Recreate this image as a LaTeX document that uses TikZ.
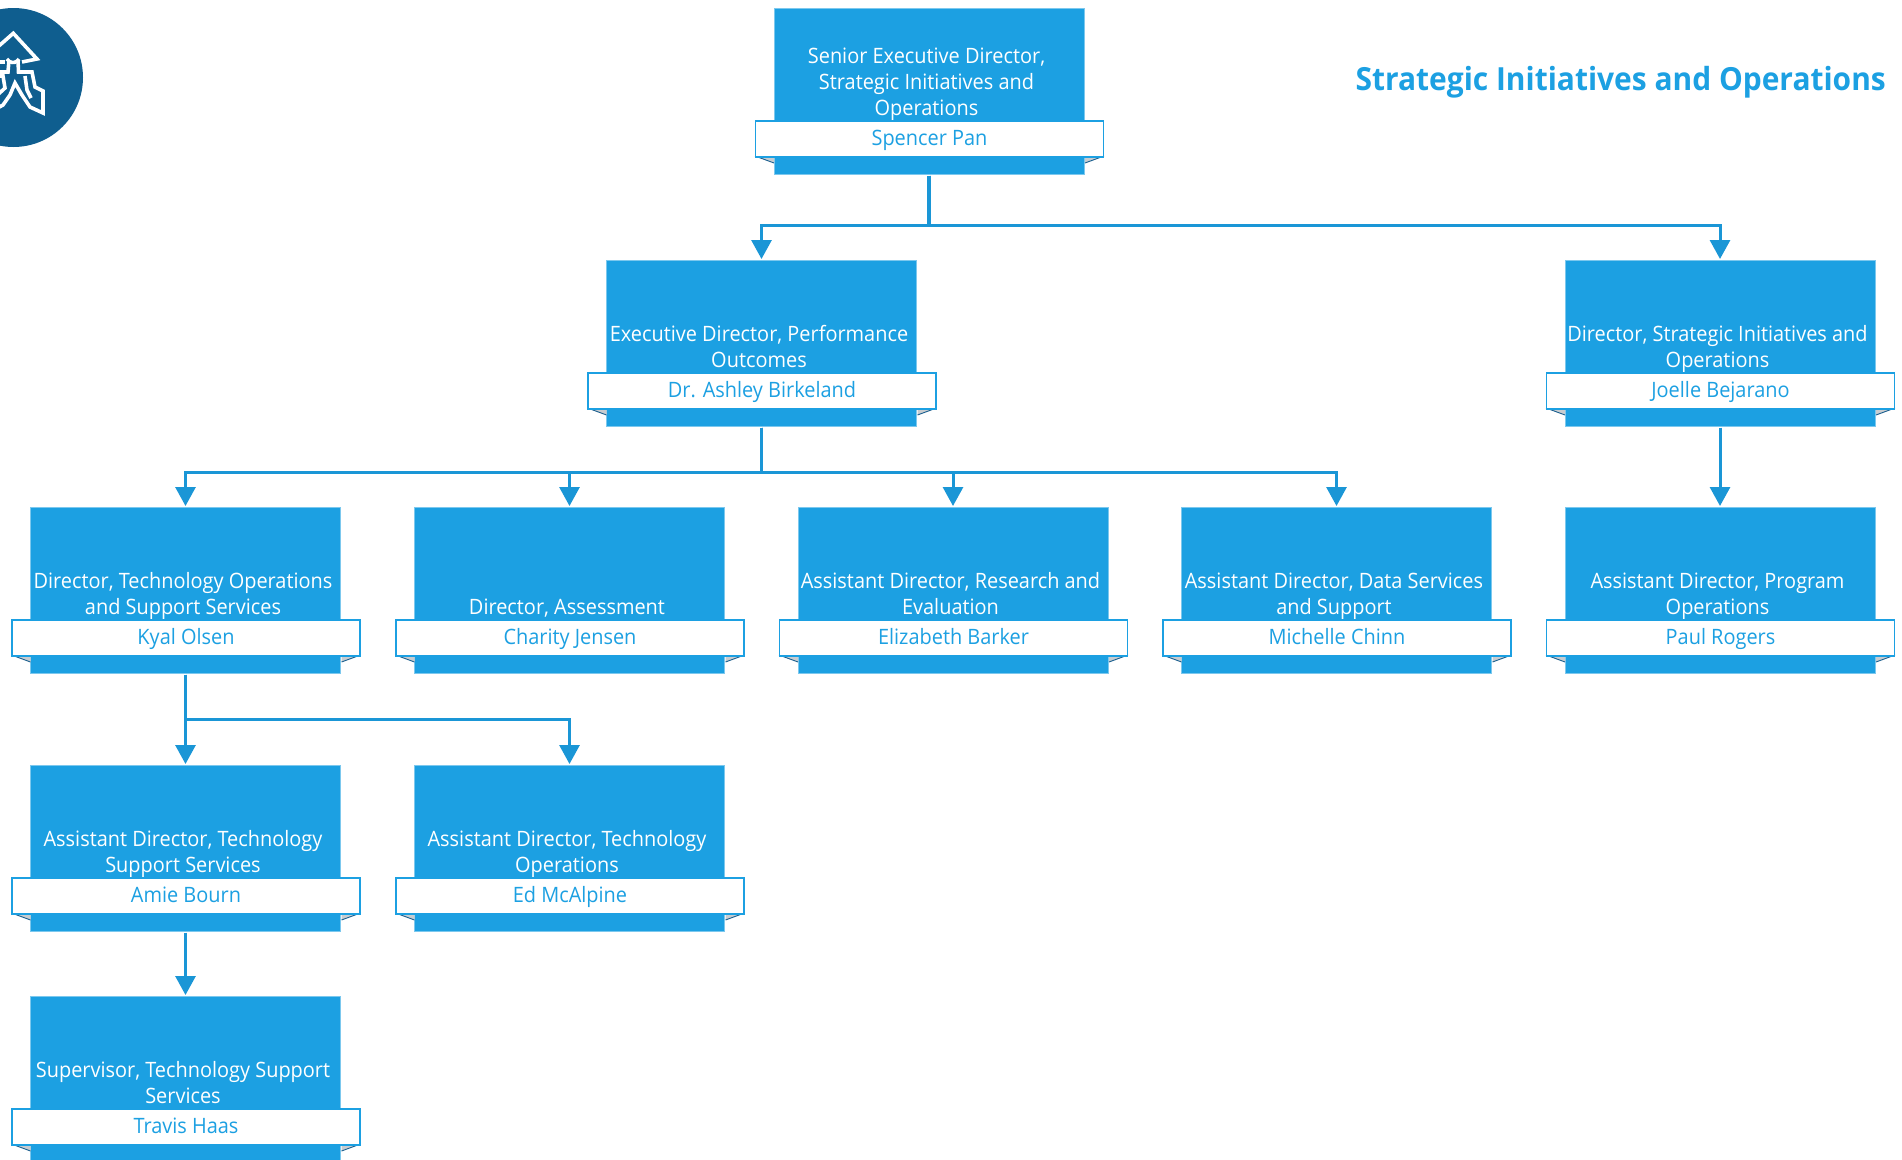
\documentclass[tikz,border=0pt]{standalone}
\usepackage{fontspec}
\setmainfont{Open Sans}[FakeStretch=0.94]
\usetikzlibrary{arrows.meta}
\definecolor{chartblue}{HTML}{1CA0E2}
\definecolor{linkblue}{HTML}{1A96D6}
\definecolor{edgeblue}{HTML}{7CC8EE}
\definecolor{logoblue}{HTML}{0F5E8F}
\definecolor{folddark}{HTML}{1A5F8F}
\definecolor{foldgrey}{HTML}{C8CCD0}
\tikzset{
  boxbody/.style={rectangle,fill=chartblue,draw=edgeblue,line width=0.6pt,minimum width=310pt,minimum height=166pt,inner sep=0pt,outer sep=0pt},
  boxtitle/.style={anchor=base,align=center,text=white,inner sep=0pt,font=\fontsize{21.2}{25.7}\selectfont},
  ribbon/.style={rectangle,anchor=north,fill=white,draw=chartblue,line width=1.3pt,minimum width=348pt,minimum height=36pt,inner sep=0pt,outer sep=0pt,text height=16.5pt,text depth=3.5pt,text=chartblue,font=\fontsize{21.2}{26}\selectfont},
  foldface/.style={fill=foldgrey},
  foldline/.style={draw=folddark,line width=0.9pt},
  conn/.style={draw=linkblue,line width=3pt,-{Triangle[width=20pt,length=19pt]},shorten >=1pt,shorten <=1.5pt},
  trunk/.style={draw=linkblue,line width=3.4pt},
  logoline/.style={draw=white,line width=3.6pt,line join=miter,line cap=butt},
  heading/.style={anchor=base east,inner sep=0pt,text=chartblue,font=\fontsize{31.85}{38}\selectfont\bfseries}
}
\newcommand{\orgbox}[5]{%
  \node[boxbody] (#1) at (#2+155,#3+83) {};
  \node[boxtitle] (#1t) at (#2+152.5,#3+107) {#4};
  \path[foldface] (#2-19,#3+148) -- ++(19,0) -- ++(0,7) -- cycle;
  \draw[foldline] (#2-19,#3+148) -- (#2,#3+155);
  \path[foldface] (#2+330,#3+148) -- ++(-19,0) -- ++(0,7) -- cycle;
  \draw[foldline] (#2+330,#3+148) -- (#2+311,#3+155);
  \node[ribbon] (#1r) at (#2+155.5,#3+113) {#5};
}
\begin{document}
\begin{tikzpicture}[x=1pt,y=-1pt]
\useasboundingbox (0,0) rectangle (1902,1159);
\clip (0,0) rectangle (1902,1159);
% logo
\node[circle,fill=logoblue,minimum size=139pt,inner sep=0pt] (logo) at (13.5,77.5) {};
\draw[logoline] (-8,52) -- (13.3,33.3) -- (37,59) -- (22,62);
\draw[logoline] (5,62) -- (-8,62);
\draw[logoline] (19,59) arc[start angle=30,end angle=150,radius=7];
\draw[logoline] (18,60) -- (18.5,72) -- (32,72) -- (35,87) -- (43,91) -- (43,113) -- (30,107) -- (22,95) -- (15,83) -- (10,95) -- (3,105) -- (-6,110);
\draw[logoline] (9,60) -- (8,72) -- (-8,72);
\draw[logoline] (25,76) -- (27,90) -- (31,98);
\draw[logoline] (-8,76) -- (3,76) -- (5,88) -- (-8,100);
% boxes
\orgbox{top}{774}{8}{Senior Executive Director,\\Strategic Initiatives and\\Operations}{Spencer Pan}
\orgbox{perf}{606.5}{260}{Executive Director, Performance\\Outcomes}{Dr. Ashley Birkeland}
\orgbox{strat}{1565}{260}{Director, Strategic Initiatives and\\Operations}{Joelle Bejarano}
\orgbox{tech}{30.5}{507}{Director, Technology Operations\\and Support Services}{Kyal Olsen}
\orgbox{assess}{414.5}{507}{Director, Assessment}{Charity Jensen}
\orgbox{research}{798}{507}{Assistant Director, Research and\\Evaluation}{Elizabeth Barker}
\orgbox{data}{1181.5}{507}{Assistant Director, Data Services\\and Support}{Michelle Chinn}
\orgbox{prog}{1565}{507}{Assistant Director, Program\\Operations}{Paul Rogers}
\orgbox{techsup}{30.5}{765}{Assistant Director, Technology\\Support Services}{Amie Bourn}
\orgbox{techops}{414.5}{765}{Assistant Director, Technology\\Operations}{Ed McAlpine}
\orgbox{super}{30.5}{996}{Supervisor, Technology Support\\Services}{Travis Haas}
% heading
\node[heading] (head) at (1886,90) {Strategic Initiatives and Operations};
% connectors
\draw[conn] (top.south) -- ++(0,51) -| (perf.north);
\draw[conn] (top.south) -- ++(0,51) -| (strat.north);
\draw[trunk,shorten <=1.5pt] (top.south) -- ++(0,51);
\draw[conn] (perf.south) -- ++(0,46) -| (tech.north);
\draw[conn] (perf.south) -- ++(0,46) -| (assess.north);
\draw[conn] (perf.south) -- ++(0,46) -| (research.north);
\draw[conn] (perf.south) -- ++(0,46) -| (data.north);
\draw[trunk,shorten <=1.5pt] (perf.south) -- ++(0,46);
\draw[conn] (strat.south) -- (prog.north);
\draw[conn] (tech.south) -- (techsup.north);
\draw[conn] (tech.south) -- ++(0,46) -| (techops.north);
\draw[conn] (techsup.south) -- (super.north);
\end{tikzpicture}
\end{document}
